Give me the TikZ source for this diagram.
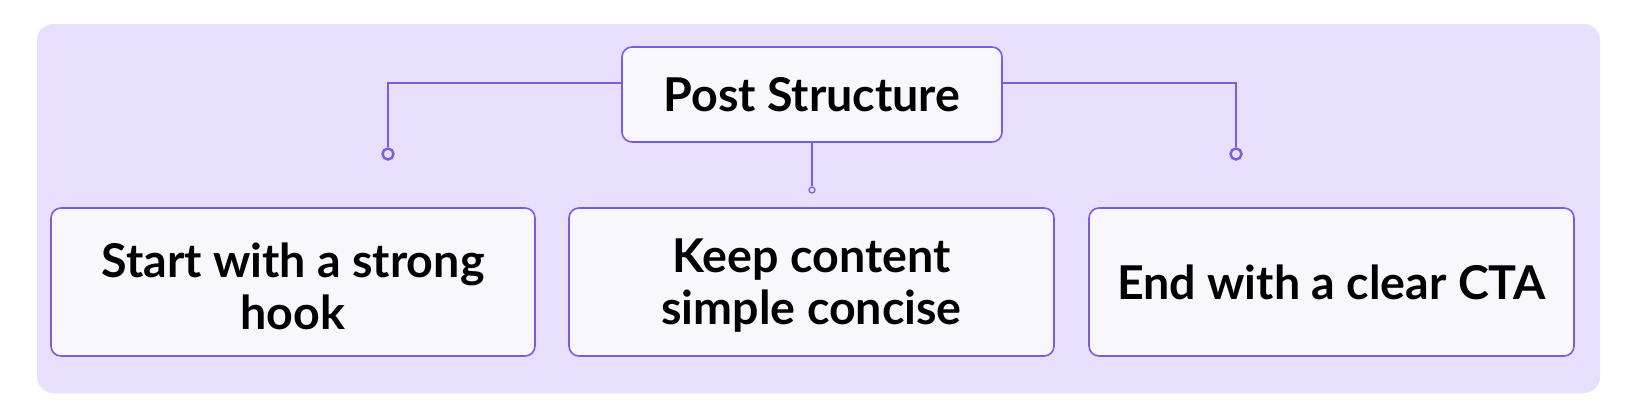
\documentclass[tikz,border=0pt]{standalone}
\usepackage{fontspec}
\setmainfont{Lato}
\definecolor{panel}{HTML}{E8DEFD}
\definecolor{boxfill}{HTML}{F9F7FE}
\definecolor{accent}{HTML}{7B5CDE}
\begin{document}
\begin{tikzpicture}[x=0.5pt,y=-0.5pt,
  cardtext/.style={inner sep=0pt,align=center,font=\bfseries\fontsize{23.3}{26}\selectfont},
  card/.style={draw=accent,line width=0.8pt,fill=boxfill,rounded corners=5pt,cardtext},
  link/.style={draw=accent,line width=0.9pt},
  dot/.style={circle,draw=accent,line width=1.2pt,fill=panel,inner sep=0pt,minimum size=5.5pt},
  smalldot/.style={circle,draw=accent,line width=0.6pt,fill=panel,inner sep=0pt,minimum size=3pt}]
\useasboundingbox (0,0) rectangle (1632,418);
\fill[panel,rounded corners=8pt] (37,24) rectangle (1600,393);
\node[card,minimum width=190pt,minimum height=47.5pt] (post) at (812,94.5) {Post Structure};
\node[card,minimum width=242pt,minimum height=74pt,
  label={[cardtext,yshift=-2pt]center:Start with a strong\\hook}] (b1) at (293,282) {};
\node[card,minimum width=242.5pt,minimum height=74pt,
  label={[cardtext,yshift=-2pt]center:Keep content\\simple concise}] (b2) at (811.5,282) {};
\node[card,minimum width=242.5pt,minimum height=74pt] (b3) at (1331.5,282) {End with a clear CTA};
\node[dot] (d1) at (388,154) {};
\node[dot] (d3) at (1236,154) {};
\node[smalldot] (d2) at (812,190) {};
\coordinate (hl) at (622,83);
\coordinate (hr) at (1002,83);
\draw[link] (hl) -| (d1.north);
\draw[link] (hr) -| (d3.north);
\draw[link,line width=1.3pt] (post.south) -- (d2.north);
\end{tikzpicture}
\end{document}
